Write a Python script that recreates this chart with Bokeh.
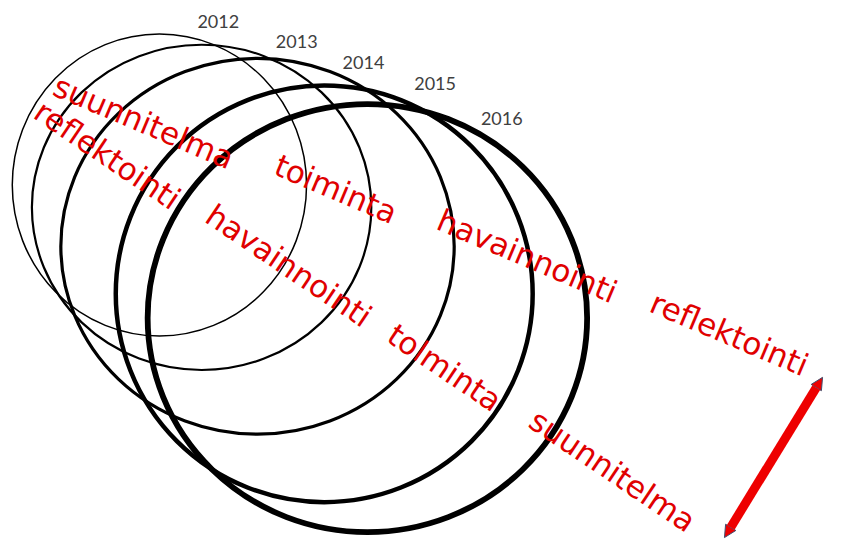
from bokeh.plotting import figure
from bokeh.models import Range1d, Arrow, NormalHead
from bokeh.core.properties import value
from bokeh.embed import file_html
from bokeh.resources import INLINE

# ---- data (reference-pixel coordinate space) ----
years = ["2012", "2013", "2014", "2015", "2016"]
ring_cx = [162, 205, 262, 330, 374]
ring_cy = [190, 213, 253, 302, 327]
ring_w = [300, 346, 401, 425, 448]
ring_h = [311, 335, 387, 429, 441]
label_x = [222, 302, 370, 443, 511]
label_y = [22, 42, 64, 85, 121]

upper_words = ["suunnitelma", "toiminta", "havainnointi", "reflektointi"]
upper_x = [146, 342, 537, 743]
upper_y = [125, 194, 263, 343]

lower_words = ["reflektointi", "havainnointi", "tolminta", "suunnitelma"]
lower_x = [109, 294, 453, 624]
lower_y = [159, 273, 378, 484]

arrow_start = (838, 388)
arrow_end = (738, 553)

# ---- styles ----
ring_widths = [1.5, 2.2, 3.2, 4.5, 5.8]

p = figure(width=825, height=540, output_backend="svg", toolbar_location=None,
           x_range=Range1d(0, 841), y_range=Range1d(556, 0), min_border=0)
p.axis.visible = False
p.grid.visible = False
p.outline_line_color = None
p.background_fill_color = "white"

for i in range(len(years)):
    p.ellipse(x=[ring_cx[i]], y=[ring_cy[i]], width=[ring_w[i]], height=[ring_h[i]],
              fill_color=None, line_color="black", line_width=ring_widths[i])

p.text(x=label_x, y=label_y, text=years, text_font=value("Lato"),
       text_font_size="18px", text_color="#404040", text_align="center",
       text_baseline="middle")

p.text(x=upper_x, y=upper_y, text=upper_words, angle=-23, angle_units="deg",
       text_font=value("DejaVu Sans"), text_font_size="31px", text_color="#e00000",
       text_align="center", text_baseline="middle")

p.text(x=lower_x, y=lower_y, text=lower_words, angle=-34, angle_units="deg",
       text_font=value("DejaVu Sans"), text_font_size="31px", text_color="#e00000",
       text_align="center", text_baseline="middle")

arr = Arrow(x_start=arrow_start[0], y_start=arrow_start[1],
            x_end=arrow_end[0], y_end=arrow_end[1],
            line_color="#ee0000", line_width=9,
            start=NormalHead(size=12, fill_color="#ee0000", line_color="#3f4f6f", line_width=1),
            end=NormalHead(size=12, fill_color="#ee0000", line_color="#3f4f6f", line_width=1))
p.add_layout(arr)

open("out.html", "w").write(file_html(p, INLINE))
